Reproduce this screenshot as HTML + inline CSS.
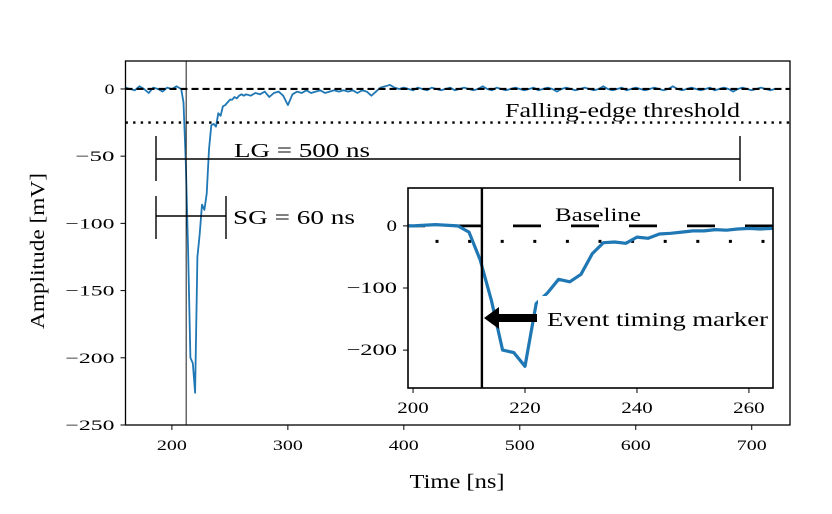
<!DOCTYPE html>
<html><head><meta charset="utf-8"><style>
body{margin:0;background:#fff}
svg{display:block;font-family:"Liberation Serif",serif}
</style></head><body>
<svg id="c" width="832" height="514" viewBox="0 0 832 514" xmlns="http://www.w3.org/2000/svg"></svg>
<script>
const times=[160,164,168,172,176,180,184,188,192,196,200,204,208,210,212,214,216,218,220,222,224,226,228,230,232,234,236,238,240,242,244,246,248,250,252,254,256,258,260,262,264,
268,272,276,280,284,288,292,296,300,304,308,312,316,320,324,328,332,336,340,344,348,352,356,360,364,368,372,376,380,384,388,392,396,400,
404,408,412,416,420,424,428,432,436,440,444,448,452,456,460,464,468,472,476,480,484,488,492,496,500,504,508,512,516,520,524,528,532,536,540,544,548,552,556,560,564,568,572,576,580,584,588,592,596,600,604,608,612,616,620,624,628,632,636,640,644,648,652,656,660,664,668,672,676,680,684,688,692,696,700,704,708,712,716,720,724,728,732];
const values=[1,0,-1,2,0,-3,1,0,-2,1,0,2,0,-10,-55,-120,-200,-204,-226,-125,-108,-86,-90,-78,-45,-27,-26,-28,-18,-20,-13,-12,-10,-8,-8,-6,-7,-5,-4,-5,-4,
-5,-3,-4,-2,-6,-3,-2,-5,-12,-4,-2,-3,-1,-3,-2,-1,-3,-2,-1,-2,-1,-2,-1,-3,-1,-2,-5,-2,1,2,3,1,0,1,
0,-1,1,0,-1,1,0,-1,0,1,-1,0,1,0,-1,0,2,0,-1,1,0,-1,0,1,0,-1,0,1,-1,0,1,0,-2,0,1,0,-1,0,1,0,-1,0,2,0,-1,0,1,-1,0,1,0,-1,0,1,0,-1,0,2,0,-1,0,1,0,-1,0,1,-1,0,1,0,-2,0,1,0,-1,0,1,0,-1,0];
const mainXTicks=[200,300,400,500,600,700];
const mainYTicks=[0,-50,-100,-150,-200,-250];
const insetXTicks=[200,220,240,260];
const insetYTicks=[0,-100,-200];
const thresholdValue=-25, baselineValue=0, timingMarker=212.3;

const NS="http://www.w3.org/2000/svg", svg=document.getElementById('c');
function el(tag,attrs,parent,text){const e=document.createElementNS(NS,tag);for(const k in attrs)e.setAttribute(k,attrs[k]);if(text!==undefined)e.textContent=text;(parent||svg).appendChild(e);return e;}
function numW(s,dw,mw){let w=0;for(const ch of s)w+=(ch==='\u2212'?mw:dw);return w;}
const M={x0:125.5,x1:790,y0:61,y1:425,tmin:160,tmax:733,vmin:-250,vmax:20.8};
const mx=t=>M.x0+(t-M.tmin)/(M.tmax-M.tmin)*(M.x1-M.x0);
const my=v=>M.y1-(v-M.vmin)/(M.vmax-M.vmin)*(M.y1-M.y0);
const I={x0:408,x1:773,y0:188,y1:388,tmin:199.1,tmax:264.3,vmin:-261,vmax:61};
const ix=t=>I.x0+(t-I.tmin)/(I.tmax-I.tmin)*(I.x1-I.x0);
const iy=v=>I.y1-(v-I.vmin)/(I.vmax-I.vmin)*(I.y1-I.y0);
const LA='spacingAndGlyphs';

// main
const g=el('g',{});
let d=times.map((t,i)=>(i?'L':'M')+mx(t).toFixed(1)+' '+my(values[i]).toFixed(1)).join(' ');
const ln=el('path',{d,fill:'none',stroke:'#1f77b4','stroke-width':1.8,'stroke-linejoin':'round'},g);

const bl=el('line',{x1:M.x0,x2:M.x1,y1:my(baselineValue),y2:my(baselineValue),stroke:'#000','stroke-width':2.2,'stroke-dasharray':'7 4'},g);

const th=el('line',{x1:M.x0,x2:M.x1,y1:my(thresholdValue),y2:my(thresholdValue),stroke:'#000','stroke-width':2.4,'stroke-dasharray':'2.4 5.2'},g);

const tm=el('line',{x1:mx(timingMarker),x2:mx(timingMarker),y1:M.y0,y2:M.y1,stroke:'#000','stroke-width':0.9},g);

const tt=el('text',{x:505,y:117,'font-size':20,textLength:235,lengthAdjust:LA},g,'Falling-edge threshold');

el('path',{d:'M156 159H740M156 136V181M740 136V181',stroke:'#000','stroke-width':1.4,fill:'none'},g);
el('text',{x:234,y:157,'font-size':20,textLength:136,lengthAdjust:LA},g,'LG = 500 ns');
el('path',{d:'M156 216H226M156 196V239M226 196V239',stroke:'#000','stroke-width':1.4,fill:'none'},g);
el('text',{x:233,y:224,'font-size':20,textLength:122,lengthAdjust:LA},g,'SG = 60 ns');
el('rect',{x:M.x0,y:M.y0,width:M.x1-M.x0,height:M.y1-M.y0,fill:'none',stroke:'#000','stroke-width':1.3},g);
mainXTicks.forEach(t=>{el('line',{x1:mx(t),x2:mx(t),y1:M.y1,y2:M.y1+5,stroke:'#000'},g);
 const s=String(t);
 const tx=el('text',{x:mx(t),y:M.y1+25,'font-size':15,'text-anchor':'middle',textLength:numW(s,10,18),lengthAdjust:LA},g,s);});
mainYTicks.forEach(v=>{el('line',{x1:M.x0-5,x2:M.x0,y1:my(v),y2:my(v),stroke:'#000'},g);
 const s=v<0?'\u2212'+(-v):String(v);
 const tx=el('text',{x:M.x0-11,y:my(v)+5,'font-size':15,'text-anchor':'end',textLength:numW(s,10,19),lengthAdjust:LA},g,s);});
el('text',{x:457,y:488,'font-size':20,'text-anchor':'middle',textLength:95,lengthAdjust:LA},g,'Time [ns]');
el('text',{x:0,y:0,'font-size':20,'text-anchor':'middle',textLength:156,lengthAdjust:LA,transform:'translate(44 251) rotate(-90)'},g,'Amplitude [mV]');

// inset
const gi=el('g',{});
el('rect',{x:I.x0,y:I.y0,width:I.x1-I.x0,height:I.y1-I.y0,fill:'#fff'},gi);
const cp=el('clipPath',{id:'ic'},gi);el('rect',{x:I.x0,y:I.y0,width:I.x1-I.x0,height:I.y1-I.y0},cp);
const gc=el('g',{'clip-path':'url(#ic)'},gi);
el('line',{x1:I.x0,x2:I.x1,y1:iy(baselineValue),y2:iy(baselineValue),stroke:'#000','stroke-width':2.8,'stroke-dasharray':'28 30','stroke-dashoffset':'11'},gc);
el('line',{x1:I.x0,x2:I.x1,y1:iy(thresholdValue),y2:iy(thresholdValue),stroke:'#000','stroke-width':3,'stroke-dasharray':'3 29.6','stroke-dashoffset':'-27.5'},gc);
let di=times.map((t,i)=>(i?'L':'M')+ix(t).toFixed(1)+' '+iy(values[i]).toFixed(1)).join(' ');
const il=el('path',{d:di,fill:'none',stroke:'#1f77b4','stroke-width':3.2,'stroke-linejoin':'round'},gc);

el('rect',{x:538,y:296,width:235,height:42,fill:'#fff'},gc);
el('line',{x1:ix(timingMarker),x2:ix(timingMarker),y1:I.y0,y2:I.y1,stroke:'#000','stroke-width':2.4},gi);
el('path',{d:'M537 314H499V307L484 318L499 329V322H537Z',fill:'#000'},gi);
el('text',{x:547,y:326,'font-size':20,textLength:221,lengthAdjust:LA},gi,'Event timing marker');
el('text',{x:555,y:221,'font-size':19,textLength:86,lengthAdjust:LA},gi,'Baseline');
el('rect',{x:I.x0,y:I.y0,width:I.x1-I.x0,height:I.y1-I.y0,fill:'none',stroke:'#000','stroke-width':1.6},gi);
insetXTicks.forEach(t=>{el('line',{x1:ix(t),x2:ix(t),y1:I.y1,y2:I.y1+5,stroke:'#000'},gi);
 const s=String(t);
 const tx=el('text',{x:ix(t),y:I.y1+25,'font-size':16,'text-anchor':'middle',textLength:numW(s,10.5,19),lengthAdjust:LA},gi,s);});
insetYTicks.forEach(v=>{el('line',{x1:I.x0-5,x2:I.x0,y1:iy(v),y2:iy(v),stroke:'#000'},gi);
 const s=v<0?'\u2212'+(-v):String(v);
 const tx=el('text',{x:I.x0-11,y:iy(v)+5,'font-size':16,'text-anchor':'end',textLength:numW(s,10.5,19),lengthAdjust:LA},gi,s);});
</script>
</body></html>
